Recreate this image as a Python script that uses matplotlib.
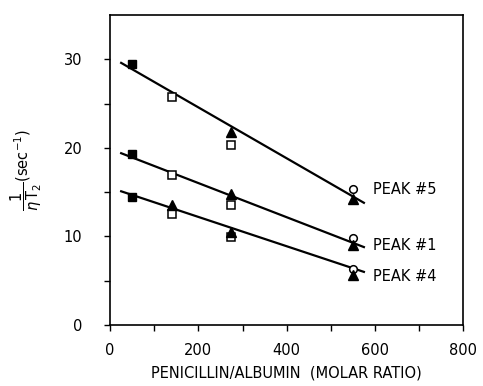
import matplotlib
matplotlib.use("Agg")
import matplotlib.pyplot as plt

# Data (penicillin/albumin molar ratio vs 1/(eta T2))
filled_sq_x = [50, 50, 50]
filled_sq_y = [29.5, 19.3, 14.5]
open_sq_x = [140, 275, 140, 275, 140, 275]
open_sq_y = [25.7, 20.3, 16.9, 13.6, 12.5, 9.9]
tri_x = [275, 550, 275, 550, 140, 275, 550]
tri_y = [21.8, 14.2, 14.8, 9.0, 13.6, 10.5, 5.7]
circ_x = [550, 550, 550]
circ_y = [15.4, 9.8, 6.3]

line_x = [25, 575]
peak5_line = [29.6, 13.8]
peak1_line = [19.4, 8.8]
peak4_line = [15.1, 6.0]

labels = ["PEAK #5", "PEAK #1", "PEAK #4"]
label_y = [15.3, 9.0, 5.5]

plt.rcParams['font.family'] = ['DejaVu Sans']
fig = plt.figure(figsize=(4.83, 3.86), dpi=100)
ax = fig.add_axes([0.228, 0.158, 0.731, 0.803])

for ly in (peak5_line, peak1_line, peak4_line):
    ax.plot(line_x, ly, color='black', lw=1.6, zorder=2)

ax.plot(filled_sq_x, filled_sq_y, 's', ms=5.5, mfc='black', mec='black', zorder=3)
ax.plot(open_sq_x, open_sq_y, 's', ms=5.5, mfc='white', mec='black', mew=1.1, zorder=3)
ax.plot(circ_x, circ_y, 'o', ms=5.5, mfc='white', mec='black', mew=1.1, zorder=3)
ax.plot(tri_x, tri_y, '^', ms=7, mfc='black', mec='black', zorder=4)

for lab, y in zip(labels, label_y):
    ax.text(595, y, lab, fontsize=10.5, va='center', ha='left')

ax.set_xlim(0, 800)
ax.set_ylim(0, 35)
ax.set_xticks(range(0, 801, 100))
ax.set_xticklabels(['0', '', '200', '', '400', '', '600', '', '800'])
ax.set_yticks(range(0, 31, 5))
ax.set_yticklabels(['0', '', '10', '', '20', '', '30'])
ax.tick_params(direction='out', length=4, labelsize=10.5, width=1)
ax.tick_params(axis='y', pad=16)
ax.tick_params(axis='x', pad=9)
for s in ax.spines.values():
    s.set_linewidth(1.2)

ax.set_xlabel('PENICILLIN/ALBUMIN  (MOLAR RATIO)', fontsize=10.5, labelpad=5)
ax.set_ylabel(r'$\dfrac{1}{\eta\,\mathrm{T}_2}$(sec$^{-1}$)', fontsize=10.5, labelpad=14)

fig.savefig('out.png', dpi=100)
